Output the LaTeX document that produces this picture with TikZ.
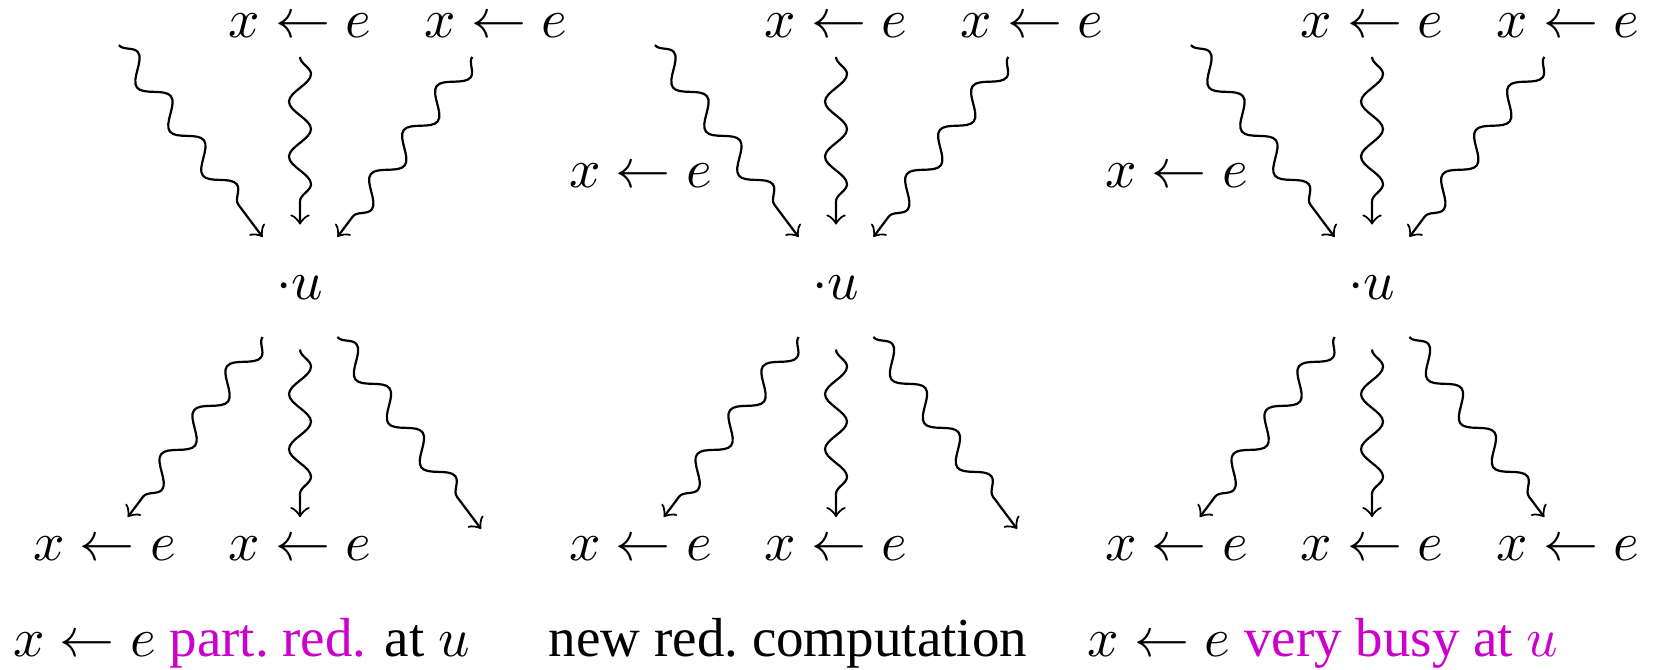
\documentclass[tikz,border=0pt]{standalone}
\usepackage{fontspec}
\setmainfont{Liberation Serif}
\usepackage{xcolor}
\usetikzlibrary{decorations.pathmorphing}
\definecolor{busy}{RGB}{204,0,204}

\begin{document}
\begin{tikzpicture}[
    wave/.style={->, decorate, decoration={snake, amplitude=2pt, segment length=10pt, post length=3pt}},
    point/.style={circle, inner sep=4.6pt},
    hole/.style={inner sep=3.33pt}
]
    \useasboundingbox (-1.917,-2.447) rectangle (8.652,1.834);

    % Left: partially redundant
    \begin{scope}
        \node[point] (u1) at (0,0) {$\cdot u$};
        \node[hole] (tl1) at (-1.25,1.67) {};
        \node (tc1) at (0,1.67) {$x \leftarrow e$};
        \node (tr1) at (1.25,1.67) {$x \leftarrow e$};
        \node (bl1) at (-1.25,-1.67) {$x \leftarrow e$};
        \node (bc1) at (0,-1.67) {$x \leftarrow e$};
        \node[hole] (br1) at (1.25,-1.67) {};
        \draw[wave] (tl1) -- (u1);
        \draw[wave] (tc1) -- (u1);
        \draw[wave] (tr1) -- (u1);
        \draw[wave] (u1) -- (bl1);
        \draw[wave] (u1) -- (bc1);
        \draw[wave] (u1) -- (br1);
    \end{scope}

    % Middle: new redundant computation
    \begin{scope}[xshift=3.425cm]
        \node[point] (u2) at (0,0) {$\cdot u$};
        \node[hole] (tl2) at (-1.25,1.67) {};
        \node (tc2) at (0,1.67) {$x \leftarrow e$};
        \node (tr2) at (1.25,1.67) {$x \leftarrow e$};
        \node (ml2) at (-1.25,0.71) {$x \leftarrow e$};
        \node (bl2) at (-1.25,-1.67) {$x \leftarrow e$};
        \node (bc2) at (0,-1.67) {$x \leftarrow e$};
        \node[hole] (br2) at (1.25,-1.67) {};
        \draw[wave] (tl2) -- (u2);
        \draw[wave] (tc2) -- (u2);
        \draw[wave] (tr2) -- (u2);
        \draw[wave] (u2) -- (bl2);
        \draw[wave] (u2) -- (bc2);
        \draw[wave] (u2) -- (br2);
    \end{scope}

    % Right: very busy
    \begin{scope}[xshift=6.85cm]
        \node[point] (u3) at (0,0) {$\cdot u$};
        \node[hole] (tl3) at (-1.25,1.67) {};
        \node (tc3) at (0,1.67) {$x \leftarrow e$};
        \node (tr3) at (1.25,1.67) {$x \leftarrow e$};
        \node (ml3) at (-1.25,0.71) {$x \leftarrow e$};
        \node (bl3) at (-1.25,-1.67) {$x \leftarrow e$};
        \node (bc3) at (0,-1.67) {$x \leftarrow e$};
        \node (br3) at (1.25,-1.67) {$x \leftarrow e$};
        \draw[wave] (tl3) -- (u3);
        \draw[wave] (tc3) -- (u3);
        \draw[wave] (tr3) -- (u3);
        \draw[wave] (u3) -- (bl3);
        \draw[wave] (u3) -- (bc3);
        \draw[wave] (u3) -- (br3);
    \end{scope}

    % Captions
    \node (cap1) at (-0.374,-2.275) {$x \leftarrow e$ \textcolor{busy}{part.\ red.} at $u$};
    \node (cap2) at (3.118,-2.275) {new red.\ computation};
    \node (cap3) at (6.537,-2.275) {$x \leftarrow e$ \textcolor{busy}{very busy at $u$}};
\end{tikzpicture}
\end{document}
